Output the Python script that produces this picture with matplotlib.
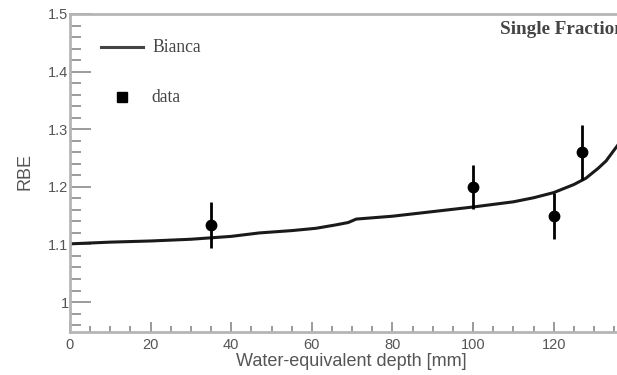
import matplotlib
matplotlib.use('Agg')
import matplotlib.pyplot as plt
from matplotlib.ticker import MultipleLocator, FuncFormatter

# Bianca model curve
depth_curve = [0, 10, 20, 30, 40, 47, 55, 61, 66, 69, 71, 80, 90, 100, 110,
               115, 120, 125, 128, 131, 133, 135, 136.5]
rbe_curve = [1.101, 1.104, 1.106, 1.109, 1.114, 1.120, 1.124, 1.128, 1.134,
             1.138, 1.144, 1.149, 1.157, 1.165, 1.174, 1.181, 1.190, 1.204,
             1.215, 1.232, 1.245, 1.264, 1.278]

# measured points
depth_data = [35, 100, 120, 127]
rbe_data = [1.133, 1.200, 1.150, 1.260]
rbe_err = [0.040, 0.038, 0.040, 0.048]

fig = plt.figure(figsize=(6.17, 3.75), dpi=100)
ax = fig.add_axes([70 / 617, 1 - 332 / 375, 1 - 70 / 617, (332 - 14) / 375])

ax.plot(depth_curve, rbe_curve, color='#1a1a1a', lw=2.2, solid_capstyle='round')
ax.errorbar(depth_data, rbe_data, yerr=rbe_err, fmt='o', color='black',
            ms=7.5, elinewidth=2, capsize=0)

ax.set_xlim(0, 135.7)
ax.set_ylim(0.948, 1.5)

gray = '#8a8a8a'
for s in ['left', 'bottom', 'top']:
    ax.spines[s].set_color('#b5b5b5')
    ax.spines[s].set_linewidth(2)
ax.spines['right'].set_visible(False)

ax.xaxis.set_major_locator(MultipleLocator(20))
ax.xaxis.set_minor_locator(MultipleLocator(5))
ax.yaxis.set_major_locator(MultipleLocator(0.1))
ax.yaxis.set_minor_locator(MultipleLocator(0.02))
ax.yaxis.set_major_formatter(FuncFormatter(lambda v, p: ('%.1f' % v).rstrip('0').rstrip('.')))

ax.tick_params(axis='x', which='major', direction='in', length=7, width=1.2,
               color=gray, labelcolor='#555555', labelsize=10.5, pad=4, top=False)
ax.tick_params(axis='x', which='minor', direction='in', length=4, width=1.2,
               color=gray, top=False)
ax.tick_params(axis='y', which='major', direction='in', length=15, width=1.2,
               color=gray, labelcolor='#555555', labelsize=10.5, pad=1, right=False)
ax.tick_params(axis='y', which='minor', direction='in', length=8, width=1.2,
               color=gray, right=False)
for lab in ax.get_xticklabels() + ax.get_yticklabels():
    lab.set_family('Liberation Sans')

fig.text(351 / 617, 1 - 362 / 375, 'Water-equivalent depth [mm]', ha='center',
         va='center', fontsize=13, color='#555555', family='Liberation Sans')
fig.text(25 / 617, 1 - 172 / 375, 'RBE', ha='center', va='center', rotation=90,
         fontsize=13, color='#555555', family='Liberation Sans')

# legend drawn by hand in figure pixels
fig.add_artist(plt.Line2D([101 / 617, 143 / 617], [1 - 47 / 375, 1 - 47 / 375],
                          color='#444444', lw=2.2, transform=fig.transFigure))
fig.text(152 / 617, 1 - 47 / 375, 'Bianca', ha='left', va='center', fontsize=12.7,
         color='#444444', family='Liberation Serif')
fig.add_artist(plt.Line2D([122 / 617], [1 - 97 / 375], marker='s', ms=7,
                          color='black', lw=0, transform=fig.transFigure))
fig.text(151 / 617, 1 - 97 / 375, 'data', ha='left', va='center', fontsize=12.7,
         color='#444444', family='Liberation Serif')
fig.text(500 / 617, 1 - 29 / 375, 'Single Fraction', ha='left', va='center',
         fontsize=13.8, color='#444444', family='Liberation Serif', weight='bold')

fig.savefig('out.png', dpi=100)
